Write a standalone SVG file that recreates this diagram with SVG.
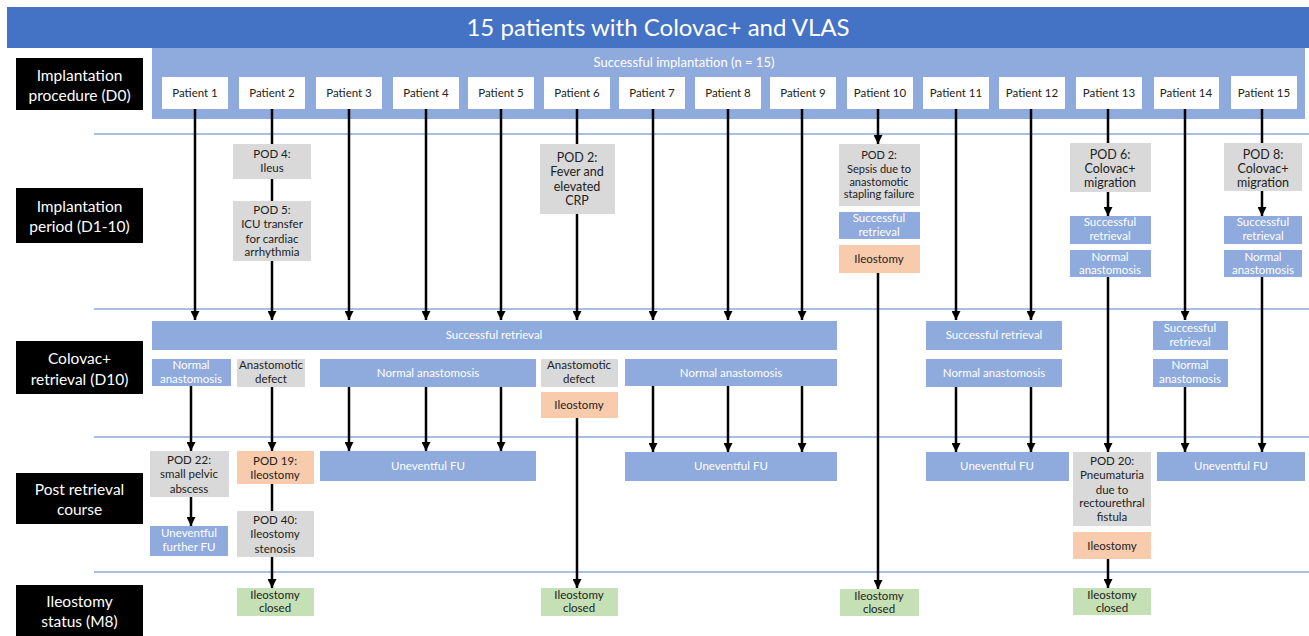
<svg xmlns="http://www.w3.org/2000/svg" width="1309" height="636" viewBox="0 0 1309 636">
<defs>
<marker id="ah" viewBox="0 0 10 10" refX="10" refY="5" markerWidth="9" markerHeight="9" markerUnits="userSpaceOnUse" orient="auto"><path d="M0,0 L10,5 L0,10 z" fill="#000"/></marker>
<style>
text{font-family:Lato,"Liberation Sans",sans-serif;text-anchor:middle}
.lbl rect{fill:#000}
.lbl text{fill:#fff;font-size:15.5px}
.pt rect{fill:#fff}
.pt text{fill:#222;font-size:11.5px}
.b rect{fill:#8FAADC}
.b text{fill:#fff;font-size:11.5px}
.g rect{fill:#D9D9D9}
.g text{fill:#222;font-size:11.5px}
.o rect{fill:#F8CBAD}
.o text{fill:#222;font-size:11.5px}
.gr rect{fill:#C5E0B4}
.gr text{fill:#222;font-size:11.5px}
.sep{stroke:#8FAADC;stroke-width:1.5}
.c line{stroke:#000;stroke-width:2.5}
.c .a{marker-end:url(#ah)}
</style>
</defs>
<rect width="1309" height="636" fill="#fff"/>
<g id="title"><rect x="7" y="7" width="1302" height="41" fill="#4472C4"/><text x="658" y="36" fill="#fff" style="font-size:24px">15 patients with Colovac+ and VLAS</text></g>
<g id="band"><rect x="152" y="48" width="1153" height="71" fill="#8FAADC"/><text x="684" y="67" fill="#fff" style="font-size:13px">Successful implantation (n = 15)</text></g>
<g id="separators">
<line class="sep" x1="94" y1="134" x2="1309" y2="134"/>
<line class="sep" x1="94" y1="309" x2="1309" y2="309"/>
<line class="sep" x1="94" y1="437" x2="1309" y2="437"/>
<line class="sep" x1="94" y1="572" x2="1309" y2="572"/>
</g>
<g id="connectors" class="c">
<line class="a" x1="195" y1="109" x2="195" y2="320"/>
<line class="a" x1="191" y1="386" x2="191" y2="451"/>
<line class="a" x1="191" y1="497" x2="191" y2="526"/>
<line class="a" x1="272" y1="109" x2="272" y2="320"/>
<line class="a" x1="272" y1="387" x2="272" y2="451"/>
<line class="a" x1="272" y1="484" x2="272" y2="588"/>
<line class="a" x1="349" y1="109" x2="349" y2="320"/>
<line class="a" x1="349" y1="387" x2="349" y2="451"/>
<line class="a" x1="426" y1="109" x2="426" y2="320"/>
<line class="a" x1="426" y1="387" x2="426" y2="451"/>
<line class="a" x1="501" y1="109" x2="501" y2="320"/>
<line class="a" x1="501" y1="387" x2="501" y2="451"/>
<line class="a" x1="577" y1="109" x2="577" y2="320"/>
<line class="a" x1="577" y1="418" x2="577" y2="588"/>
<line class="a" x1="653" y1="109" x2="653" y2="320"/>
<line class="a" x1="653" y1="386" x2="653" y2="452"/>
<line class="a" x1="728" y1="109" x2="728" y2="320"/>
<line class="a" x1="728" y1="386" x2="728" y2="452"/>
<line class="a" x1="802" y1="109" x2="802" y2="320"/>
<line class="a" x1="802" y1="386" x2="802" y2="452"/>
<line class="a" x1="878" y1="109" x2="878" y2="144"/>
<line class="a" x1="878" y1="273" x2="878" y2="589"/>
<line class="a" x1="956" y1="109" x2="956" y2="320"/>
<line class="a" x1="956" y1="387" x2="956" y2="452"/>
<line class="a" x1="1031" y1="109" x2="1031" y2="320"/>
<line class="a" x1="1031" y1="387" x2="1031" y2="452"/>
<line x1="1108" y1="109" x2="1108" y2="143"/>
<line class="a" x1="1108" y1="192" x2="1108" y2="216"/>
<line class="a" x1="1108" y1="277" x2="1108" y2="452"/>
<line class="a" x1="1108" y1="559" x2="1108" y2="588"/>
<line class="a" x1="1185" y1="109" x2="1185" y2="320"/>
<line class="a" x1="1185" y1="387" x2="1185" y2="452"/>
<line x1="1262" y1="109" x2="1262" y2="143"/>
<line class="a" x1="1262" y1="191" x2="1262" y2="216"/>
<line class="a" x1="1262" y1="277" x2="1262" y2="452"/>
</g>
<g id="lbl-d0" class="lbl"><rect x="16" y="58" width="127" height="52"/><text x="79.5" y="81">Implantation</text><text x="79.5" y="101">procedure (D0)</text></g>
<g id="lbl-d1" class="lbl"><rect x="16" y="188" width="127" height="55"/><text x="79.5" y="212">Implantation</text><text x="79.5" y="232">period (D1-10)</text></g>
<g id="lbl-d10" class="lbl"><rect x="16" y="341" width="127" height="53"/><text x="79.5" y="364">Colovac+</text><text x="79.5" y="385">retrieval (D10)</text></g>
<g id="lbl-post" class="lbl"><rect x="16" y="473" width="127" height="51"/><text x="79.5" y="495">Post retrieval</text><text x="79.5" y="515">course</text></g>
<g id="lbl-m8" class="lbl"><rect x="16" y="585" width="127" height="51"/><text x="79.5" y="607">Ileostomy</text><text x="79.5" y="627">status (M8)</text></g>
<g id="p1" class="pt"><rect x="162" y="77" width="66" height="32"/><text x="195" y="97">Patient 1</text></g>
<g id="p2" class="pt"><rect x="239" y="77" width="66" height="32"/><text x="272" y="97">Patient 2</text></g>
<g id="p3" class="pt"><rect x="316" y="77" width="66" height="32"/><text x="349" y="97">Patient 3</text></g>
<g id="p4" class="pt"><rect x="393" y="77" width="66" height="32"/><text x="426" y="97">Patient 4</text></g>
<g id="p5" class="pt"><rect x="468" y="77" width="66" height="32"/><text x="501" y="97">Patient 5</text></g>
<g id="p6" class="pt"><rect x="544" y="77" width="66" height="32"/><text x="577" y="97">Patient 6</text></g>
<g id="p7" class="pt"><rect x="619" y="77" width="66" height="32"/><text x="652" y="97">Patient 7</text></g>
<g id="p8" class="pt"><rect x="695" y="77" width="66" height="32"/><text x="728" y="97">Patient 8</text></g>
<g id="p9" class="pt"><rect x="770" y="77" width="66" height="32"/><text x="803" y="97">Patient 9</text></g>
<g id="p10" class="pt"><rect x="847" y="77" width="66" height="32"/><text x="880" y="97">Patient 10</text></g>
<g id="p11" class="pt"><rect x="923" y="77" width="66" height="32"/><text x="956" y="97">Patient 11</text></g>
<g id="p12" class="pt"><rect x="999" y="77" width="66" height="32"/><text x="1032" y="97">Patient 12</text></g>
<g id="p13" class="pt"><rect x="1076" y="77" width="66" height="32"/><text x="1109" y="97">Patient 13</text></g>
<g id="p14" class="pt"><rect x="1154" y="77" width="65" height="32"/><text x="1186" y="97">Patient 14</text></g>
<g id="p15" class="pt"><rect x="1231" y="76" width="66" height="33"/><text x="1264" y="97">Patient 15</text></g>
<g id="p2-pod4" class="g"><rect x="233" y="144" width="78" height="35"/><text x="272" y="158">POD 4:</text><text x="272" y="172">Ileus</text></g>
<g id="p2-pod5" class="g"><rect x="233" y="201" width="78" height="60"/><text x="272" y="214">POD 5:</text><text x="272" y="228">ICU transfer</text><text x="272" y="243">for cardiac</text><text x="272" y="256">arrhythmia</text></g>
<g id="p6-pod2" class="g"><rect x="540" y="144" width="75" height="70"/><text x="577" y="162" style="font-size:12.5px">POD 2:</text><text x="577" y="176" style="font-size:12.5px">Fever and</text><text x="577" y="191" style="font-size:12.5px">elevated</text><text x="577" y="205" style="font-size:12.5px">CRP</text></g>
<g id="p10-pod2" class="g"><rect x="839" y="144" width="81" height="62"/><text x="879" y="159" style="font-size:11px">POD 2:</text><text x="879" y="173" style="font-size:11px">Sepsis due to</text><text x="879" y="186" style="font-size:11px">anastomotic</text><text x="879" y="198" style="font-size:11px">stapling failure</text></g>
<g id="p10-retr" class="b"><rect x="839" y="212" width="81" height="27"/><text x="879" y="222">Successful</text><text x="879" y="236">retrieval</text></g>
<g id="p10-ileo" class="o"><rect x="839" y="245" width="81" height="28"/><text x="879" y="263">Ileostomy</text></g>
<g id="p13-pod6" class="g"><rect x="1070" y="143" width="81" height="49"/><text x="1110" y="159" style="font-size:12.5px">POD 6:</text><text x="1110" y="173" style="font-size:12.5px">Colovac+</text><text x="1110" y="187" style="font-size:12.5px">migration</text></g>
<g id="p13-retr" class="b"><rect x="1070" y="216" width="81" height="28"/><text x="1110" y="226">Successful</text><text x="1110" y="240">retrieval</text></g>
<g id="p13-anas" class="b"><rect x="1070" y="250" width="81" height="27"/><text x="1110" y="261">Normal</text><text x="1110" y="274">anastomosis</text></g>
<g id="p15-pod8" class="g"><rect x="1224" y="143" width="78" height="48"/><text x="1263" y="159" style="font-size:12.5px">POD 8:</text><text x="1263" y="173" style="font-size:12.5px">Colovac+</text><text x="1263" y="187" style="font-size:12.5px">migration</text></g>
<g id="p15-retr" class="b"><rect x="1224" y="216" width="78" height="28"/><text x="1263" y="226">Successful</text><text x="1263" y="240">retrieval</text></g>
<g id="p15-anas" class="b"><rect x="1224" y="250" width="78" height="27"/><text x="1263" y="261">Normal</text><text x="1263" y="274">anastomosis</text></g>
<g id="retr-1-9" class="b"><rect x="152" y="321" width="685" height="29"/><text x="494" y="339">Successful retrieval</text></g>
<g id="p1-anas" class="b"><rect x="152" y="359" width="79" height="27"/><text x="191" y="369">Normal</text><text x="191" y="383">anastomosis</text></g>
<g id="p2-defect" class="g"><rect x="237" y="359" width="68" height="28"/><text x="271" y="369">Anastomotic</text><text x="271" y="383">defect</text></g>
<g id="p3-5-anas" class="b"><rect x="320" y="359" width="216" height="28"/><text x="428" y="377">Normal anastomosis</text></g>
<g id="p6-defect" class="g"><rect x="541" y="359" width="77" height="28"/><text x="579" y="369">Anastomotic</text><text x="579" y="383">defect</text></g>
<g id="p6-ileo" class="o"><rect x="541" y="392" width="77" height="26"/><text x="579" y="409">Ileostomy</text></g>
<g id="p7-9-anas" class="b"><rect x="625" y="359" width="212" height="27"/><text x="731" y="377">Normal anastomosis</text></g>
<g id="p11-12-retr" class="b"><rect x="926" y="321" width="136" height="29"/><text x="994" y="339">Successful retrieval</text></g>
<g id="p11-12-anas" class="b"><rect x="926" y="359" width="136" height="28"/><text x="994" y="377">Normal anastomosis</text></g>
<g id="p14-retr" class="b"><rect x="1153" y="321" width="75" height="29"/><text x="1190" y="332">Successful</text><text x="1190" y="346">retrieval</text></g>
<g id="p14-anas" class="b"><rect x="1153" y="359" width="75" height="28"/><text x="1190" y="369">Normal</text><text x="1190" y="383">anastomosis</text></g>
<g id="p1-pod22" class="g"><rect x="150" y="451" width="79" height="46"/><text x="189" y="464">POD 22:</text><text x="189" y="478">small pelvic</text><text x="189" y="493">abscess</text></g>
<g id="p1-fu" class="b"><rect x="150" y="526" width="78" height="30"/><text x="189" y="537">Uneventful</text><text x="189" y="551">further FU</text></g>
<g id="p2-pod19" class="o"><rect x="237" y="451" width="77" height="33"/><text x="275" y="465">POD 19:</text><text x="275" y="479">Ileostomy</text></g>
<g id="p2-pod40" class="g"><rect x="237" y="511" width="77" height="46"/><text x="275" y="524">POD 40:</text><text x="275" y="538">Ileostomy</text><text x="275" y="553">stenosis</text></g>
<g id="p2-closed" class="gr"><rect x="237" y="588" width="77" height="28"/><text x="275" y="599">Ileostomy</text><text x="275" y="612">closed</text></g>
<g id="p3-5-fu" class="b"><rect x="320" y="451" width="216" height="30"/><text x="428" y="470">Uneventful FU</text></g>
<g id="p6-closed" class="gr"><rect x="541" y="588" width="77" height="28"/><text x="579" y="599">Ileostomy</text><text x="579" y="612">closed</text></g>
<g id="p7-9-fu" class="b"><rect x="625" y="452" width="212" height="29"/><text x="731" y="470">Uneventful FU</text></g>
<g id="p10-closed" class="gr"><rect x="840" y="589" width="79" height="27"/><text x="879" y="600">Ileostomy</text><text x="879" y="613">closed</text></g>
<g id="p11-12-fu" class="b"><rect x="926" y="452" width="143" height="29"/><text x="997" y="470">Uneventful FU</text></g>
<g id="p13-pod20" class="g"><rect x="1073" y="452" width="78" height="74"/><text x="1112" y="465">POD 20:</text><text x="1112" y="479">Pneumaturia</text><text x="1112" y="494">due to</text><text x="1112" y="507">rectourethral</text><text x="1112" y="521">fistula</text></g>
<g id="p13-ileo" class="o"><rect x="1073" y="532" width="78" height="27"/><text x="1112" y="550">Ileostomy</text></g>
<g id="p13-closed" class="gr"><rect x="1073" y="588" width="78" height="27"/><text x="1112" y="599">Ileostomy</text><text x="1112" y="612">closed</text></g>
<g id="p14-15-fu" class="b"><rect x="1157" y="452" width="148" height="29"/><text x="1231" y="470">Uneventful FU</text></g>
</svg>
